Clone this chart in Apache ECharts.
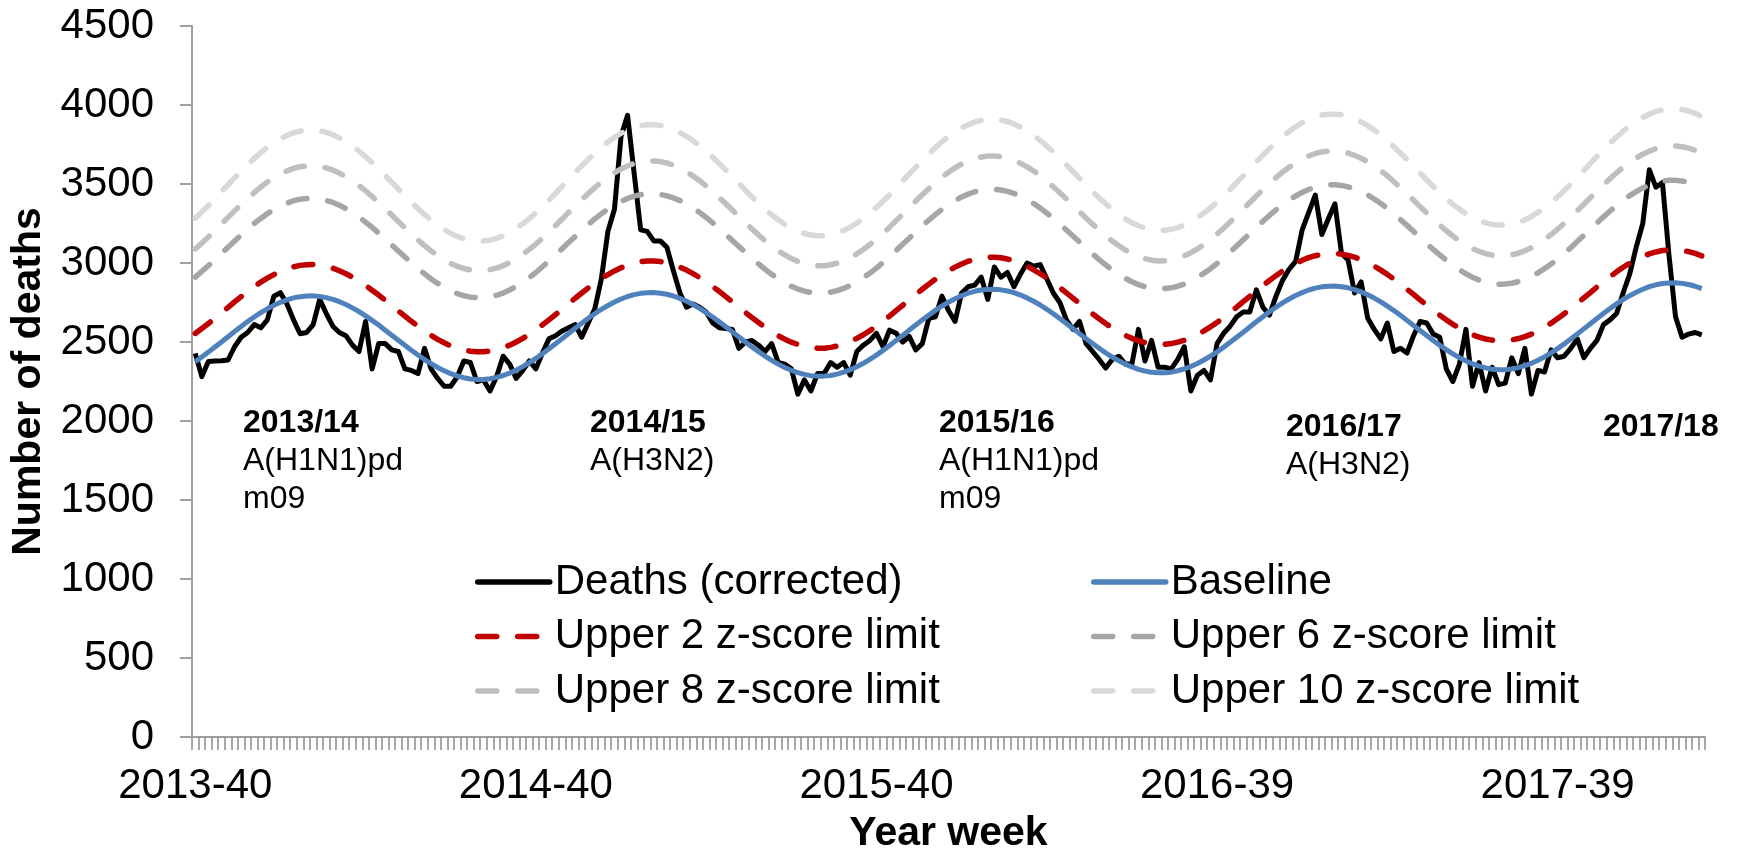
<!DOCTYPE html>
<html>
<head>
<meta charset="utf-8">
<title>Weekly deaths with baseline and z-score limits</title>
<script src="https://cdn.jsdelivr.net/npm/echarts@6/dist/echarts.min.js"></script>
<style>
  html, body { margin: 0; padding: 0; background: #fff; }
  #main { width: 1739px; height: 861px; }
</style>
</head>
<body>
<div id="main"></div>
<script>
// weekly deaths, corrected for delay (starts 2013-40)
var deaths = [
  2428, 2281, 2376, 2380, 2382, 2386, 2470, 2530, 2560, 2610, 2590, 2640, 2790, 2812, 2740, 2640, 2552, 2560, 2610, 2770, 2680, 2600, 2560, 2540, 2480, 2440,
  2630, 2330, 2490, 2490, 2450, 2440, 2330, 2320, 2300, 2460, 2330, 2270, 2220, 2220, 2280, 2380, 2370, 2250, 2260, 2190, 2280, 2410, 2360, 2270, 2320, 2380,
  2330, 2430, 2520, 2540, 2570, 2590, 2610, 2530, 2620, 2710, 2900, 3200, 3340, 3800, 3935, 3570, 3210, 3200, 3140, 3140, 3100, 2950, 2810, 2720, 2740, 2720,
  2690, 2620, 2590, 2585, 2580, 2460, 2500, 2510, 2480, 2440, 2490, 2370, 2360, 2330, 2170, 2260, 2190, 2300, 2300, 2370, 2340, 2370, 2290, 2440, 2480, 2510,
  2555, 2470, 2575, 2555, 2500, 2535, 2450, 2490, 2650, 2660, 2790, 2700, 2630, 2810, 2850, 2860, 2910, 2770, 2975, 2910, 2940, 2850, 2930, 3000, 2980, 2990,
  2900, 2810, 2750, 2640, 2580, 2630, 2490, 2440, 2390, 2335, 2390, 2410, 2360, 2360, 2580, 2380, 2510, 2340, 2340, 2330, 2390, 2470, 2190, 2290, 2320, 2260,
  2490, 2555, 2600, 2660, 2690, 2690, 2830, 2720, 2670, 2790, 2890, 2960, 3010, 3210, 3320, 3430, 3180, 3280, 3375, 3060, 3020, 2810, 2880, 2650, 2580, 2520,
  2620, 2440, 2460, 2430, 2540, 2630, 2620, 2550, 2530, 2330, 2250, 2360, 2580, 2220, 2370, 2190, 2340, 2230, 2240, 2400, 2300, 2460, 2170, 2320, 2310, 2450,
  2400, 2410, 2460, 2520, 2400, 2460, 2510, 2610, 2640, 2680, 2810, 2930, 3100, 3250, 3590, 3480, 3510, 3050, 2660, 2530, 2550, 2560, 2545
];

var baseline = [
  2375, 2405, 2436, 2468, 2500, 2533, 2566, 2598, 2629, 2658, 2686, 2710, 2732, 2751, 2767, 2779, 2787, 2791, 2792, 2788, 2781, 2770, 2755, 2737, 2716, 2692,
  2665, 2637, 2607, 2575, 2543, 2511, 2479, 2448, 2418, 2389, 2363, 2339, 2318, 2300, 2285, 2274, 2266, 2263, 2263, 2267, 2276, 2288, 2303, 2322, 2344, 2369,
  2396, 2426, 2457, 2489, 2521, 2554, 2587, 2619, 2650, 2679, 2707, 2731, 2753, 2772, 2788, 2800, 2808, 2812, 2813, 2809, 2802, 2791, 2776, 2758, 2737, 2713,
  2686, 2658, 2628, 2596, 2564, 2532, 2500, 2469, 2439, 2410, 2384, 2360, 2339, 2321, 2306, 2295, 2287, 2284, 2284, 2288, 2297, 2309, 2324, 2343, 2365, 2390,
  2417, 2447, 2478, 2510, 2542, 2575, 2608, 2640, 2671, 2700, 2728, 2752, 2774, 2793, 2809, 2821, 2829, 2833, 2834, 2830, 2823, 2812, 2797, 2779, 2758, 2734,
  2707, 2679, 2649, 2617, 2585, 2553, 2521, 2490, 2460, 2431, 2405, 2381, 2360, 2342, 2327, 2316, 2308, 2305, 2305, 2309, 2318, 2330, 2345, 2364, 2386, 2411,
  2437, 2467, 2498, 2530, 2562, 2595, 2628, 2660, 2691, 2720, 2748, 2772, 2794, 2813, 2829, 2841, 2849, 2853, 2854, 2850, 2843, 2832, 2817, 2799, 2778, 2754,
  2727, 2699, 2669, 2637, 2605, 2573, 2541, 2510, 2480, 2451, 2425, 2401, 2380, 2362, 2347, 2336, 2328, 2325, 2325, 2329, 2338, 2350, 2365, 2384, 2406, 2431,
  2458, 2488, 2519, 2551, 2583, 2616, 2649, 2681, 2712, 2741, 2769, 2793, 2815, 2834, 2850, 2862, 2870, 2874, 2875, 2871, 2864, 2853, 2838
];

var upper2 = [
  2554, 2585, 2617, 2651, 2685, 2719, 2754, 2787, 2819, 2850, 2879, 2904, 2927, 2947, 2964, 2976, 2985, 2989, 2990, 2986, 2978, 2967, 2951, 2932, 2910, 2885,
  2858, 2828, 2797, 2764, 2731, 2697, 2664, 2631, 2600, 2570, 2542, 2517, 2495, 2476, 2461, 2449, 2442, 2438, 2438, 2443, 2452, 2464, 2480, 2500, 2523, 2549,
  2577, 2608, 2640, 2674, 2708, 2742, 2777, 2810, 2842, 2873, 2902, 2927, 2950, 2970, 2987, 2999, 3008, 3012, 3013, 3009, 3001, 2990, 2974, 2955, 2933, 2908,
  2881, 2851, 2820, 2787, 2754, 2720, 2687, 2654, 2623, 2593, 2565, 2540, 2518, 2499, 2484, 2472, 2465, 2461, 2461, 2466, 2475, 2487, 2503, 2523, 2546, 2572,
  2601, 2632, 2664, 2698, 2732, 2766, 2801, 2834, 2866, 2897, 2926, 2951, 2974, 2994, 3011, 3023, 3032, 3036, 3037, 3033, 3025, 3014, 2998, 2979, 2957, 2932,
  2905, 2875, 2844, 2811, 2778, 2744, 2711, 2678, 2647, 2617, 2589, 2564, 2542, 2523, 2508, 2496, 2489, 2485, 2485, 2490, 2499, 2511, 2527, 2547, 2570, 2596,
  2624, 2655, 2687, 2721, 2755, 2789, 2824, 2857, 2889, 2920, 2949, 2974, 2997, 3017, 3034, 3046, 3055, 3059, 3060, 3056, 3048, 3037, 3021, 3002, 2980, 2955,
  2928, 2898, 2867, 2834, 2801, 2767, 2734, 2701, 2670, 2640, 2612, 2587, 2565, 2546, 2531, 2519, 2512, 2508, 2508, 2513, 2522, 2534, 2550, 2570, 2593, 2619,
  2648, 2679, 2711, 2745, 2779, 2813, 2848, 2881, 2913, 2944, 2973, 2998, 3021, 3041, 3058, 3070, 3079, 3083, 3084, 3080, 3072, 3061, 3045
];

var upper6 = [
  2911, 2947, 2983, 3022, 3061, 3100, 3139, 3178, 3215, 3250, 3282, 3312, 3338, 3361, 3379, 3394, 3404, 3409, 3409, 3405, 3396, 3383, 3366, 3344, 3319, 3291,
  3259, 3225, 3189, 3152, 3114, 3076, 3038, 3000, 2965, 2931, 2899, 2871, 2846, 2824, 2806, 2793, 2784, 2780, 2781, 2786, 2796, 2810, 2829, 2852, 2878, 2907,
  2940, 2976, 3012, 3051, 3090, 3129, 3168, 3207, 3244, 3279, 3311, 3341, 3367, 3390, 3408, 3423, 3433, 3438, 3438, 3434, 3425, 3412, 3395, 3373, 3348, 3320,
  3288, 3254, 3218, 3181, 3143, 3105, 3067, 3029, 2994, 2960, 2928, 2900, 2875, 2853, 2835, 2822, 2813, 2809, 2810, 2815, 2825, 2839, 2858, 2881, 2907, 2936,
  2968, 3004, 3040, 3079, 3118, 3157, 3196, 3235, 3272, 3307, 3339, 3369, 3395, 3418, 3436, 3451, 3461, 3466, 3466, 3462, 3453, 3440, 3423, 3401, 3376, 3348,
  3316, 3282, 3246, 3209, 3171, 3133, 3095, 3057, 3022, 2988, 2956, 2928, 2903, 2881, 2863, 2850, 2841, 2837, 2838, 2843, 2853, 2867, 2886, 2909, 2935, 2964,
  2997, 3033, 3069, 3108, 3147, 3186, 3225, 3264, 3301, 3336, 3368, 3398, 3424, 3447, 3465, 3480, 3490, 3495, 3495, 3491, 3482, 3469, 3452, 3430, 3405, 3377,
  3345, 3311, 3275, 3238, 3200, 3162, 3124, 3086, 3051, 3017, 2985, 2957, 2932, 2910, 2892, 2879, 2870, 2866, 2867, 2872, 2882, 2896, 2915, 2938, 2964, 2993,
  3025, 3061, 3097, 3136, 3175, 3214, 3253, 3292, 3329, 3364, 3396, 3426, 3452, 3475, 3493, 3508, 3518, 3523, 3523, 3519, 3510, 3497, 3480
];

var upper8 = [
  3089, 3126, 3165, 3206, 3247, 3289, 3330, 3370, 3409, 3446, 3481, 3512, 3540, 3564, 3583, 3599, 3609, 3615, 3615, 3611, 3602, 3588, 3569, 3546, 3520, 3490,
  3457, 3421, 3383, 3344, 3304, 3263, 3223, 3184, 3146, 3110, 3077, 3047, 3020, 2997, 2979, 2965, 2956, 2951, 2952, 2958, 2968, 2983, 3003, 3027, 3055, 3086,
  3120, 3157, 3196, 3237, 3278, 3320, 3361, 3401, 3440, 3477, 3512, 3543, 3571, 3595, 3614, 3630, 3640, 3646, 3646, 3642, 3633, 3619, 3600, 3577, 3551, 3521,
  3488, 3452, 3414, 3375, 3335, 3294, 3254, 3215, 3177, 3141, 3108, 3078, 3051, 3028, 3010, 2996, 2987, 2982, 2983, 2989, 2999, 3014, 3034, 3058, 3086, 3117,
  3151, 3188, 3227, 3268, 3309, 3351, 3392, 3432, 3471, 3508, 3543, 3574, 3602, 3626, 3645, 3661, 3671, 3677, 3677, 3673, 3664, 3650, 3631, 3608, 3582, 3552,
  3519, 3483, 3445, 3406, 3366, 3325, 3285, 3246, 3208, 3172, 3139, 3109, 3082, 3059, 3041, 3027, 3018, 3013, 3014, 3020, 3030, 3045, 3065, 3089, 3117, 3148,
  3183, 3220, 3259, 3300, 3341, 3383, 3424, 3464, 3503, 3540, 3575, 3606, 3634, 3658, 3677, 3693, 3703, 3709, 3709, 3705, 3696, 3682, 3663, 3640, 3614, 3584,
  3551, 3515, 3477, 3438, 3398, 3357, 3317, 3278, 3240, 3204, 3171, 3141, 3114, 3091, 3073, 3059, 3050, 3045, 3046, 3052, 3062, 3077, 3097, 3121, 3149, 3180,
  3214, 3251, 3290, 3331, 3372, 3414, 3455, 3495, 3534, 3571, 3606, 3637, 3665, 3689, 3708, 3724, 3734, 3740, 3740, 3736, 3727, 3713, 3694
];

var upper10 = [
  3284, 3323, 3364, 3407, 3451, 3495, 3539, 3582, 3623, 3662, 3699, 3732, 3761, 3787, 3807, 3824, 3835, 3841, 3841, 3837, 3827, 3812, 3792, 3768, 3740, 3708,
  3673, 3635, 3595, 3554, 3511, 3469, 3426, 3384, 3344, 3307, 3271, 3240, 3211, 3187, 3168, 3153, 3143, 3139, 3139, 3145, 3156, 3172, 3193, 3219, 3248, 3281,
  3318, 3357, 3398, 3441, 3485, 3529, 3573, 3616, 3657, 3696, 3733, 3766, 3795, 3821, 3841, 3858, 3869, 3875, 3875, 3871, 3861, 3846, 3826, 3802, 3774, 3742,
  3707, 3669, 3629, 3588, 3545, 3503, 3460, 3418, 3378, 3341, 3305, 3274, 3245, 3221, 3202, 3187, 3177, 3173, 3173, 3179, 3190, 3206, 3227, 3253, 3282, 3315,
  3352, 3391, 3432, 3475, 3519, 3563, 3607, 3650, 3691, 3730, 3767, 3800, 3829, 3855, 3875, 3892, 3903, 3909, 3909, 3905, 3895, 3880, 3860, 3836, 3808, 3776,
  3741, 3703, 3663, 3622, 3579, 3537, 3494, 3452, 3412, 3375, 3339, 3308, 3279, 3255, 3236, 3221, 3211, 3207, 3207, 3213, 3224, 3240, 3261, 3287, 3316, 3349,
  3385, 3424, 3465, 3508, 3552, 3596, 3640, 3683, 3724, 3763, 3800, 3833, 3862, 3888, 3908, 3925, 3936, 3942, 3942, 3938, 3928, 3913, 3893, 3869, 3841, 3809,
  3774, 3736, 3696, 3655, 3612, 3570, 3527, 3485, 3445, 3408, 3372, 3341, 3312, 3288, 3269, 3254, 3244, 3240, 3240, 3246, 3257, 3273, 3294, 3320, 3349, 3382,
  3419, 3458, 3499, 3542, 3586, 3630, 3674, 3717, 3758, 3797, 3834, 3867, 3896, 3922, 3942, 3959, 3970, 3976, 3976, 3972, 3962, 3947, 3927
];

// season notes: title and dominant subtype
var seasons = ['2013/14', '2014/15', '2015/16', '2016/17', '2017/18'];
var subtypes = ['A(H1N1)pd\nm09', 'A(H3N2)', 'A(H1N1)pd\nm09', 'A(H3N2)', ''];

// ISO weeks per year, to build the "year-week" labels
var weeksInYear = { 2013: 52, 2014: 52, 2015: 53, 2016: 52, 2017: 52, 2018: 52 };
var weeks = [];
(function () {
  var y = 2013, w = 40;
  while (weeks.length < deaths.length) {
    weeks.push(y + '-' + (w < 10 ? '0' + w : w));
    w++;
    if (w > weeksInYear[y]) { y++; w = 1; }
  }
})();

var font = '"Liberation Sans", Arial, sans-serif';
var axisGrey = '#A0A0A0';
var dash = [19, 21];

var myChart = echarts.init(document.getElementById('main'));

// season labels sit just under the curves
var notePos = [[243, 404], [590, 404], [939, 404], [1286, 408], [1603, 408]];
var graphics = [];
seasons.forEach(function (s, k) {
  graphics.push({
    type: 'text', left: notePos[k][0], top: notePos[k][1],
    style: { text: s, font: 'bold 32px ' + font, fill: '#000', lineHeight: 38 }
  });
  if (subtypes[k]) {
    graphics.push({
      type: 'text', left: notePos[k][0], top: notePos[k][1] + 38,
      style: { text: subtypes[k], font: '32px ' + font, fill: '#000', lineHeight: 38 }
    });
  }
});

var legendText = { fontFamily: font, fontSize: 42, color: '#000', lineHeight: 44 };

var option = {
  animation: false,
  backgroundColor: '#fff',
  grid: { left: 192, right: 34, top: 26, bottom: 124 },
  legend: [
    {
      orient: 'vertical', left: 475, top: 560, padding: 0,
      itemWidth: 72, itemHeight: 14, itemGap: 10.5,
      itemStyle: { opacity: 0 },
      lineStyle: { width: 5.5, cap: 'round' },
      selectedMode: false, textStyle: legendText,
      data: ['Deaths (corrected)', 'Upper 2 z-score limit', 'Upper 8 z-score limit']
    },
    {
      orient: 'vertical', left: 1091, top: 560, padding: 0,
      itemWidth: 72, itemHeight: 14, itemGap: 10.5,
      itemStyle: { opacity: 0 },
      lineStyle: { width: 5.5, cap: 'round' },
      selectedMode: false, textStyle: legendText,
      data: ['Baseline', 'Upper 6 z-score limit', 'Upper 10 z-score limit']
    }
  ],
  xAxis: {
    type: 'category',
    data: weeks,
    boundaryGap: true,
    name: 'Year week',
    nameLocation: 'middle',
    nameGap: 76,
    nameTextStyle: { fontFamily: font, fontSize: 41, fontWeight: 'bold', color: '#000' },
    axisLine: { lineStyle: { color: axisGrey, width: 2 } },
    axisTick: { show: true, interval: 0, length: 13, lineStyle: { color: '#8C8C8C', width: 1.5 } },
    axisLabel: { interval: 51, margin: 28, fontFamily: font, fontSize: 42, color: '#000' },
    splitLine: { show: false }
  },
  yAxis: {
    type: 'value',
    min: 0,
    max: 4500,
    interval: 500,
    name: 'Number of deaths',
    nameLocation: 'middle',
    nameRotate: 90,
    nameGap: 140,
    nameTextStyle: { fontFamily: font, fontSize: 41, fontWeight: 'bold', color: '#000' },
    axisLine: { show: true, lineStyle: { color: axisGrey, width: 2 } },
    axisTick: { show: true, length: 12, lineStyle: { color: axisGrey, width: 2 } },
    axisLabel: {
      margin: 38, fontFamily: font, fontSize: 42, color: '#000',
      formatter: function (v) { return String(v); }
    },
    splitLine: { show: false }
  },
  graphic: graphics,
  series: [
    {
      name: 'Deaths (corrected)', type: 'line', data: deaths,
      symbol: 'none', color: '#000',
      lineStyle: { color: '#000', width: 5, join: 'round' }
    },
    {
      name: 'Baseline', type: 'line', data: baseline,
      symbol: 'none', color: '#4F81BD',
      lineStyle: { color: '#4F81BD', width: 5 }
    },
    {
      name: 'Upper 2 z-score limit', type: 'line', data: upper2,
      symbol: 'none', color: '#C00000',
      lineStyle: { color: '#C00000', width: 5.5, type: dash, cap: 'round' }
    },
    {
      name: 'Upper 6 z-score limit', type: 'line', data: upper6,
      symbol: 'none', color: '#A6A6A6',
      lineStyle: { color: '#A6A6A6', width: 5.5, type: dash, cap: 'round' }
    },
    {
      name: 'Upper 8 z-score limit', type: 'line', data: upper8,
      symbol: 'none', color: '#BFBFBF',
      lineStyle: { color: '#BFBFBF', width: 5.5, type: dash, cap: 'round' }
    },
    {
      name: 'Upper 10 z-score limit', type: 'line', data: upper10,
      symbol: 'none', color: '#D9D9D9',
      lineStyle: { color: '#D9D9D9', width: 5.5, type: dash, cap: 'round' }
    }
  ]
};

myChart.setOption(option);
</script>
</body>
</html>
